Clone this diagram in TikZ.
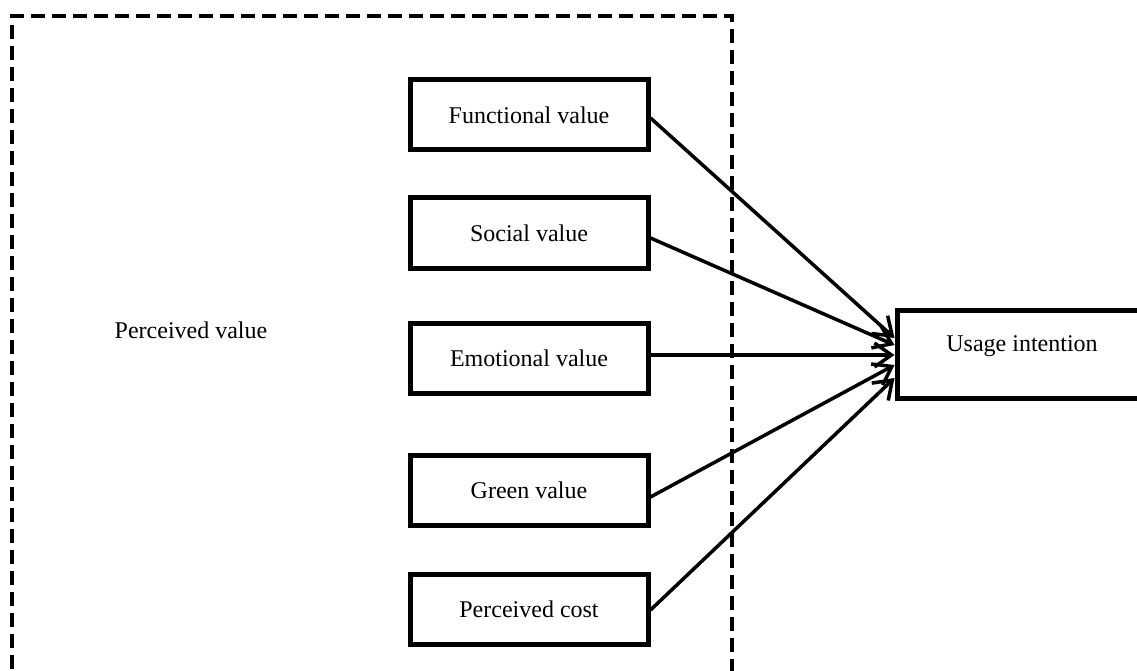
\documentclass[tikz,border=0pt]{standalone}
\usepackage{fontspec}
\setmainfont{Liberation Serif}
\usetikzlibrary{arrows.meta}
\begin{document}
\begin{tikzpicture}[x=1pt,y=-1pt,
  box/.style={draw=black, line width=5pt, minimum width=238pt, minimum height=70pt, inner sep=0pt, font=\fontsize{24}{28}\selectfont},
  conn/.style={line width=3.5pt, -{Straight Barb[length=17pt,width=24pt]}},
  frame/.style={line width=4.5pt, dash pattern=on 14pt off 7pt}]
\useasboundingbox (0,0) rectangle (1137,671);
\draw[frame] (12,690) -- (12,16) -- (732,16) -- (732,690);
\node[font=\fontsize{24}{28}\selectfont] (pv) at (191,330) {Perceived value};
\node[box] (fv) at (529,115) {Functional value};
\node[box] (sv) at (529,233) {Social value};
\node[box] (ev) at (529,358) {Emotional value};
\node[box] (gv) at (529,490) {Green value};
\node[box] (pc) at (529,609) {Perceived cost};
\node[box, minimum width=250pt, minimum height=88pt, text height=17pt, text depth=23pt] (ui) at (1022,354) {Usage intention};
\draw[conn] ([yshift=-3pt]fv.east) -- ([yshift=16pt]ui.west);
\draw[conn] ([yshift=-5pt]sv.east) -- ([yshift=9pt]ui.west);
\draw[conn] ([yshift=3pt]ev.east) -- ([yshift=-1pt]ui.west);
\draw[conn] ([yshift=-7pt]gv.east) -- ([yshift=-11pt]ui.west);
\draw[conn] ([yshift=-1pt]pc.east) -- ([yshift=-24pt]ui.west);
\end{tikzpicture}
\end{document}
